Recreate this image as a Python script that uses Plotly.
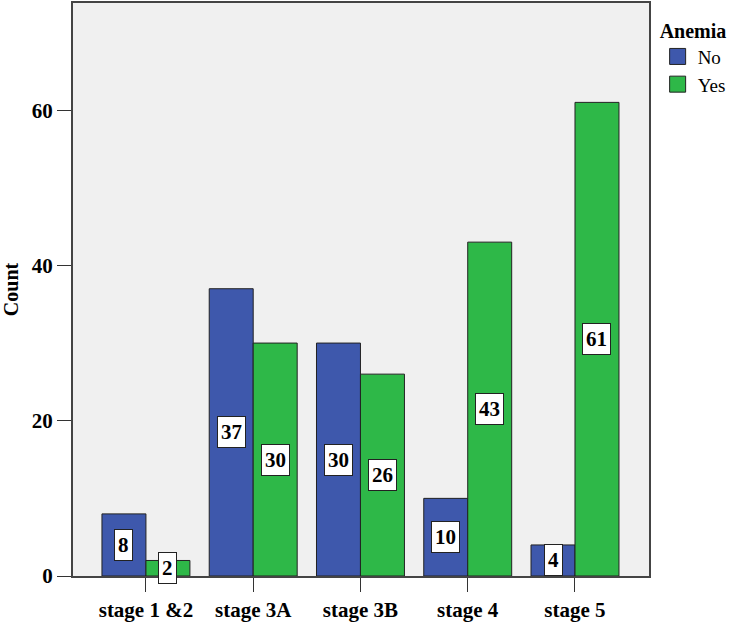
import plotly.graph_objects as go

categories = ["stage 1 &2", "stage 3A", "stage 3B", "stage 4", "stage 5"]
no_vals = [8, 37, 30, 10, 4]
yes_vals = [2, 30, 26, 43, 61]
y_ticks = [0, 20, 40, 60]

BLUE = "#3E58AC"
GREEN = "#2EB848"
SERIF = "Liberation Serif, Times New Roman, serif"
W = 0.41
FS = 21

xs = list(range(len(categories)))
fig = go.Figure()
fig.add_trace(go.Bar(x=xs, y=no_vals, name="No", width=W, offset=-W, showlegend=False,
                     marker=dict(color=BLUE, line=dict(color="#222222", width=1))))
fig.add_trace(go.Bar(x=xs, y=yes_vals, name="Yes", width=W, offset=0, showlegend=False,
                     marker=dict(color=GREEN, line=dict(color="#222222", width=1))))
# legend entries with larger square swatches
for name, col in (("No", BLUE), ("Yes", GREEN)):
    fig.add_trace(go.Scatter(x=[None], y=[None], mode="markers", name=name,
                             marker=dict(symbol="square", size=20, color=col,
                                         line=dict(color="#222222", width=1))))

for i in xs:
    for v, dx in ((no_vals[i], -W / 2), (yes_vals[i], W / 2)):
        fig.add_annotation(x=i + dx, y=v / 2, text=f"<b>{v}</b>", showarrow=False,
                           font=dict(family=SERIF, size=FS, color="black"),
                           bgcolor="white", bordercolor="#222222", borderwidth=1,
                           borderpad=3)

fig.update_layout(
    width=735, height=626,
    margin=dict(l=73, r=86, t=3, b=50),
    plot_bgcolor="#F0F0F0", paper_bgcolor="white",
    barmode="overlay",
    font=dict(family=SERIF, color="black"),
    legend=dict(x=1.015, y=0.985, xanchor="left", yanchor="top",
                title=dict(text="<b>Anemia</b>", font=dict(family=SERIF, size=20)),
                font=dict(family=SERIF, size=19), tracegroupgap=0,
                itemsizing="trace", itemwidth=30),
    showlegend=True,
)
fig.update_xaxes(range=[-0.68, 4.69], tickvals=xs,
                 ticktext=[f"<b>{c}</b>" for c in categories],
                 ticks="outside", ticklen=14, tickcolor="#333333",
                 showline=True, linecolor="#444444", linewidth=2, mirror=True,
                 showgrid=False, zeroline=False, automargin=False,
                 tickfont=dict(family=SERIF, size=FS))
fig.update_yaxes(range=[0, 73.8], tickvals=y_ticks,
                 ticktext=[f"<b>{t}</b>" for t in y_ticks],
                 ticks="outside", ticklen=14, tickcolor="#333333",
                 showline=True, linecolor="#444444", linewidth=2, mirror=True,
                 showgrid=False, zeroline=False, automargin=False,
                 tickfont=dict(family=SERIF, size=FS),
                 title=dict(text="<b>Count</b>", font=dict(family=SERIF, size=20),
                            standoff=12))

fig.write_html("out.html", config={"displayModeBar": False},
               post_script="document.body.style.margin='0';")
